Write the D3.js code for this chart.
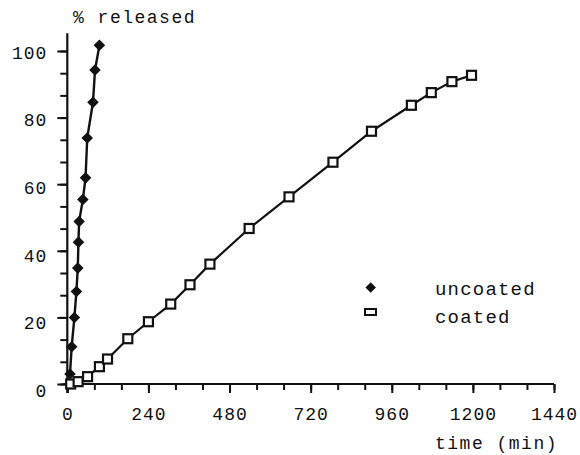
<!DOCTYPE html>
<html lang="en">
<head>
  <meta charset="UTF-8">
  <title>Release profile</title>
  <script src="https://d3js.org/d3.v7.min.js"></script>
  <style>
    body { margin: 0; background: #fff; }
    text { font-family: "Liberation Mono", "Courier New", monospace; fill: #111; }
  </style>
</head>
<body>
<div class="main"></div>
<script>
  // values
  var uncoatedTime = [8, 13, 21, 27, 31, 33, 35, 46, 54, 59, 76, 82, 95];
  var uncoatedPct  = [3, 11.2, 20, 27.8, 34.8, 42.6, 48.8, 55.4, 61.9, 73.9, 84.6, 94.3, 101.7];
  var coatedTime = [10, 32, 60, 95, 119, 179, 240, 306, 363, 422, 538, 656, 786, 900, 1018, 1077, 1138, 1196];
  var coatedPct  = [0, 0.7, 2.2, 5.2, 7.5, 13.6, 18.7, 24, 29.8, 36, 46.7, 56.2, 66.6, 75.9, 83.7, 87.5, 90.8, 92.7];
  var xTicks = [0, 240, 480, 720, 960, 1200, 1440];
  var yTicks = [0, 20, 40, 60, 80, 100];
  var seriesNames = ["uncoated", "coated"];

  var width = 580, height = 455;
  var svg = d3.select(".main").append("svg").attr("width", width).attr("height", height).style("display", "block");

  var x = d3.scaleLinear().domain([0, 1440]).range([67.3, 554]);
  var y = d3.scaleLinear().domain([0, 100]).range([384, 51]);

  var fontSize = "18px";

  // x axis: major ticks with labels, minor ticks every 80 min
  var xMinor = d3.range(0, 1441, 80);
  svg.append("g").attr("transform", "translate(0," + y(0) + ")")
    .call(d3.axisBottom(x).tickValues(xMinor).tickSize(6).tickFormat(""))
    .call(g => g.select(".domain").remove())
    .call(g => g.selectAll("line").attr("stroke", "#111").attr("stroke-width", 2));
  svg.append("g").attr("transform", "translate(0," + y(0) + ")")
    .call(d3.axisBottom(x).tickValues(xTicks).tickSize(9).tickPadding(14).tickFormat(d3.format("d")))
    .call(g => g.select(".domain").remove())
    .call(g => g.selectAll("line").attr("stroke", "#111").attr("stroke-width", 2))
    .call(g => g.selectAll("text").style("font-size", fontSize).style("letter-spacing", "1px").attr("fill", "#111"));

  // y axis: major every 20, minor every 20/3
  var yMinor = d3.range(0, 101, 20 / 3);
  svg.append("g").attr("transform", "translate(" + x(0) + ",0)")
    .call(d3.axisLeft(y).tickValues(yMinor).tickSize(7).tickFormat(""))
    .call(g => g.select(".domain").remove())
    .call(g => g.selectAll("line").attr("stroke", "#111").attr("stroke-width", 2));
  svg.append("g").attr("transform", "translate(" + x(0) + ",0)")
    .call(d3.axisLeft(y).tickValues(yTicks).tickSize(10).tickPadding(10))
    .call(g => g.select(".domain").remove())
    .call(g => g.selectAll("line").attr("stroke", "#111").attr("stroke-width", 2))
    .call(g => g.selectAll("text").style("font-size", fontSize).style("letter-spacing", "1px").attr("fill", "#111")
      .attr("dy", d => (0.32 + (1.5 + (100 - d) * 0.05) / 18) + "em"));

  // axis lines
  svg.append("line").attr("x1", x(0) - 4).attr("x2", x(1440)).attr("y1", y(0)).attr("y2", y(0))
    .style("stroke", "#111").style("stroke-width", 2.2);
  svg.append("line").attr("x1", x(0)).attr("x2", x(0)).attr("y1", y(0) + 9).attr("y2", y(105.3))
    .style("stroke", "#111").style("stroke-width", 2.2);

  // axis titles
  svg.append("text").attr("x", 73).attr("y", 23).style("font-size", fontSize).style("letter-spacing", "1.5px").text("% released");
  svg.append("text").attr("x", 435).attr("y", 449).style("font-size", fontSize).style("letter-spacing", "1.5px").text("time (min)");

  var line = d3.line().x(d => x(d[0])).y(d => y(d[1]));
  var uncoated = uncoatedTime.map((t, i) => [t, uncoatedPct[i]]);
  var coated = coatedTime.map((t, i) => [t, coatedPct[i]]);

  svg.append("path").datum(coated).attr("d", line).style("fill", "none").style("stroke", "#111").style("stroke-width", 2.2);
  svg.append("path").datum(uncoated).attr("d", line).style("fill", "none").style("stroke", "#111").style("stroke-width", 2.4);

  var diamond = d3.symbol().type(d3.symbolDiamond2).size(85);

  svg.selectAll(".sq").data(coated).enter().append("rect").attr("class", "sq")
    .attr("x", d => x(d[0]) - 4.5).attr("y", d => y(d[1]) - 4.5).attr("width", 9).attr("height", 9)
    .style("fill", "#fff").style("stroke", "#111").style("stroke-width", 2.2);

  svg.selectAll(".dm").data(uncoated).enter().append("path").attr("class", "dm")
    .attr("transform", d => "translate(" + x(d[0]) + "," + y(d[1]) + ")")
    .attr("d", diamond).style("fill", "#111");

  // legend
  var legend = svg.append("g");
  legend.append("path").attr("transform", "translate(370.7,287.5)").attr("d", d3.symbol().type(d3.symbolDiamond2).size(70)).style("fill", "#111");
  legend.append("rect").attr("x", 365).attr("y", 309).attr("width", 11).attr("height", 6)
    .style("fill", "#fff").style("stroke", "#111").style("stroke-width", 2);
  legend.selectAll(".lt").data(seriesNames).enter().append("text").attr("class", "lt")
    .attr("x", 435).attr("y", (d, i) => 295 + i * 28)
    .style("font-size", "19px").style("letter-spacing", "1.2px").text(d => d);
</script>
</body>
</html>
